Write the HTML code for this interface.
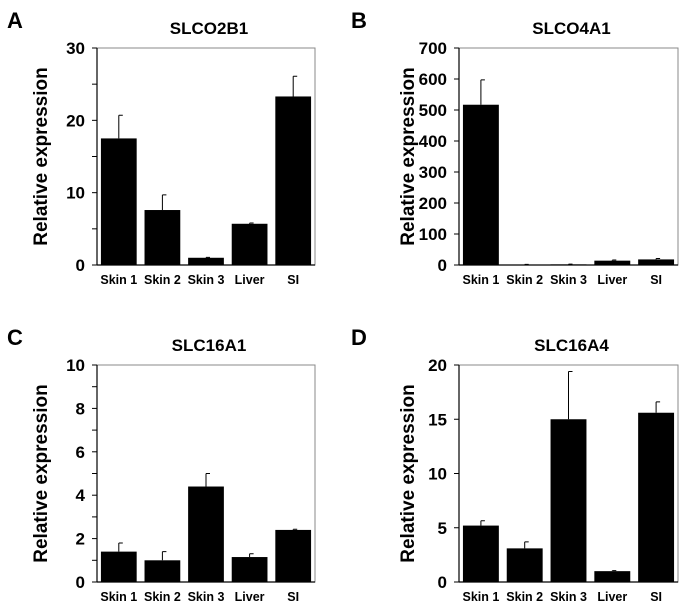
<!DOCTYPE html>
<html><head><meta charset="utf-8"><style>
body{margin:0;background:#fff;}
svg{display:block;font-family:"Liberation Sans",Arial,sans-serif;}
</style></head><body>
<svg id="fig" width="685" height="602"></svg>
<script>
const categories = ["Skin 1","Skin 2","Skin 3","Liver","SI"];
const titles = ["SLCO2B1","SLCO4A1","SLC16A1","SLC16A4"];
const letters = ["A","B","C","D"];
const valuesA = [17.5, 7.6, 1.0, 5.7, 23.3];
const errorsA = [3.2, 2.1, 0.05, 0.1, 2.8];
const valuesB = [517, 1, 2, 14, 18];
const errorsB = [80, 1, 1, 2, 3];
const valuesC = [1.4, 1.0, 4.4, 1.15, 2.4];
const errorsC = [0.4, 0.4, 0.6, 0.15, 0.03];
const valuesD = [5.2, 3.1, 15.0, 1.0, 15.6];
const errorsD = [0.45, 0.6, 4.4, 0.05, 1.0];
const ticksA = [0,10,20,30];
const ticksB = [0,100,200,300,400,500,600,700];
const ticksC = [0,2,4,6,8,10];
const ticksD = [0,5,10,15,20];
const minorA = [5,15,25];
const minorC = [1,3,5,7,9];

const NS="http://www.w3.org/2000/svg";
const svg=document.getElementById('fig');
function mk(tag,attrs,parent,text){const e=document.createElementNS(NS,tag);for(const k in attrs)e.setAttribute(k,attrs[k]);if(text!==undefined)e.textContent=text;(parent||svg).appendChild(e);return e;}

const panels=[
 {x0:97,x1:315,y0:48,y1:265,vals:valuesA,errs:errorsA,ticks:ticksA,minor:minorA,lx:8,ly:20,ylab:40},
 {x0:459,x1:678,y0:48,y1:265,vals:valuesB,errs:errorsB,ticks:ticksB,minor:[],lx:352,ly:20,ylab:407},
 {x0:97,x1:315,y0:365,y1:582,vals:valuesC,errs:errorsC,ticks:ticksC,minor:minorC,lx:8,ly:337,ylab:40},
 {x0:459,x1:678,y0:365,y1:582,vals:valuesD,errs:errorsD,ticks:ticksD,minor:[],lx:352,ly:337,ylab:407}
];
panels.forEach((p,i)=>{
  const g=mk('g',{});
  
  
  const max=p.ticks[p.ticks.length-1];
  const y=v=>p.y1-(v/max)*(p.y1-p.y0);
  const slot=(p.x1-p.x0)/categories.length;
  const xc=k=>p.x0+slot*(k+0.5);
  const lt=mk('text',{x:p.lx-1,y:p.ly+8,'font-size':22,'font-weight':'bold'},g,letters[i]);
  
  const t=mk('text',{x:(p.x0+p.x1)/2+3,y:p.y0-14,'font-size':17,'font-weight':'bold','text-anchor':'middle'},g,titles[i]);
  
  const fr=mk('rect',{x:p.x0,y:p.y0,width:p.x1-p.x0,height:p.y1-p.y0,fill:'none',stroke:'#888','stroke-width':1},g);
  
  p.vals.forEach((v,k)=>{
    const bw=slot*0.82;
    const b=mk('rect',{x:xc(k)-bw/2,y:y(v),width:bw,height:p.y1-y(v),fill:'#000'},g);
    
    
    const e=mk('path',{d:`M${xc(k)},${y(v)}V${y(v+p.errs[k])}M${xc(k)},${y(v+p.errs[k])}H${xc(k)+4}`,stroke:'#000','stroke-width':1,fill:'none'},g);
    
    
    const c=mk('text',{x:xc(k),y:p.y1+19,'font-size':12.5,'font-weight':'bold','text-anchor':'middle'},g,categories[k]);
    
    
  });
  mk('line',{x1:p.x0,x2:p.x0,y1:p.y0,y2:p.y1,stroke:'#000','stroke-width':1.2},g);
  mk('line',{x1:p.x0,x2:p.x1,y1:p.y1,y2:p.y1,stroke:'#000','stroke-width':1.2},g);
  p.ticks.forEach(tv=>{
    mk('line',{x1:p.x0-5,x2:p.x0,y1:y(tv),y2:y(tv),stroke:'#000'},g);
    const tl=mk('text',{x:p.x0-12,y:y(tv)+6,'font-size':17,'font-weight':'bold','text-anchor':'end'},g,tv);
    
    
  });
  p.minor.forEach(tv=>mk('line',{x1:p.x0-5,x2:p.x0,y1:y(tv),y2:y(tv),stroke:'#000'},g));
  const yl=mk('text',{x:0,y:0,'font-size':19,'font-weight':'bold','text-anchor':'middle',transform:`translate(${p.ylab+7},${(p.y0+p.y1)/2}) rotate(-90)`},g,'Relative expression');
  
  
});
</script>
</body></html>
